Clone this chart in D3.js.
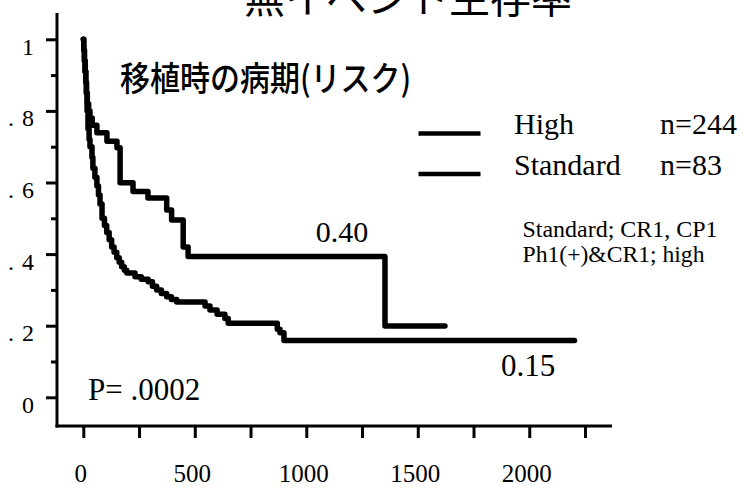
<!DOCTYPE html>
<html>
<head>
<meta charset="utf-8">
<script src="https://cdn.jsdelivr.net/npm/d3@7"></script>
<style>
  html, body { margin: 0; padding: 0; background: #fff; }
  svg { display: block; }
</style>
</head>
<body>
<script>
// ---------- data ----------
const titleText = "無イベント生存率";
const subtitleText = "移植時の病期(リスク)";

// High risk group (lower curve): time of drop (days) and survival after drop
const highTimes = [0, 2, 5, 8, 11, 14, 17, 21, 26, 30, 39, 43, 52, 61, 68, 75, 84, 95, 105, 116, 127, 138, 150, 161, 172, 184, 195, 232, 260, 291, 310, 329, 350, 374, 395, 419, 546, 568, 600, 635, 650, 870, 882, 900, 2203];
const highSurv  = [1.00, 0.97, 0.94, 0.91, 0.88, 0.85, 0.80, 0.75, 0.72, 0.70, 0.67, 0.64, 0.615, 0.59, 0.565, 0.54, 0.50, 0.48, 0.46, 0.44, 0.42, 0.405, 0.39, 0.377, 0.365, 0.355, 0.347, 0.337, 0.33, 0.323, 0.31, 0.30, 0.29, 0.281, 0.273, 0.266, 0.255, 0.244, 0.232, 0.22, 0.207, 0.19, 0.18, 0.159, 0.159];

// Standard risk group (upper curve)
const stdTimes = [0, 2, 5, 8, 11, 14, 18, 24, 30, 40, 61, 106, 151, 165, 223, 290, 374, 396, 448, 470, 1353, 1622];
const stdSurv  = [1.00, 0.97, 0.94, 0.91, 0.88, 0.85, 0.82, 0.80, 0.78, 0.76, 0.739, 0.715, 0.697, 0.599, 0.575, 0.557, 0.523, 0.495, 0.42, 0.393, 0.199, 0.199];

const legendNames  = ["High", "Standard"];
const legendCounts = ["n=244", "n=83"];
const noteLines = ["Standard; CR1, CP1", "Ph1(+)&CR1; high"];
const highEndLabel = "0.15";
const stdPlateauLabel = "0.40";
const pValueText = "P= .0002";

const xTickValues = [0, 250, 500, 750, 1000, 1250, 1500, 1750, 2000, 2250];
const xTickLabels = { 0: "0", 500: "500", 1000: "1000", 1500: "1500", 2000: "2000" };
const yMajorTicks = [0, 0.2, 0.4, 0.6, 0.8, 1];
const yTickLabels = ["0", ".2", ".4", ".6", ".8", "1"];
const yMinorTicks = [0.1, 0.3, 0.5, 0.7, 0.9];

// ---------- drawing ----------
const W = 744, H = 488;
const serif = "'Liberation Serif', 'Times New Roman', 'DejaVu Serif', serif";
const cjk = "'Noto Sans CJK JP', 'Noto Sans CJK SC', sans-serif";

const svg = d3.select("body").append("svg")
  .attr("width", W).attr("height", H)
  .attr("viewBox", `0 0 ${W} ${H}`);
svg.append("rect").attr("width", W).attr("height", H).attr("fill", "#fff");

const x = d3.scaleLinear().domain([0, 2250]).range([83.3, 585]);
const y = d3.scaleLinear().domain([0, 1]).range([397.3, 39.3]);

const axisX0 = 57, axisY0 = 426;

// title (cut off at top, as in the reference)
svg.append("text")
  .attr("x", 244).attr("y", 13)
  .attr("font-family", cjk).attr("font-size", 41)
  .attr("fill", "#000")
  .text(titleText);

// subtitle
svg.append("text")
  .attr("transform", "translate(120,91) scale(1,1.15)")
  .attr("font-family", cjk).attr("font-size", 30).attr("font-weight", 500)
  .attr("fill", "#000")
  .text(subtitleText);

// y axis
const yAxisMajor = d3.axisLeft(y)
  .tickValues(yMajorTicks)
  .tickSize(11)
  .tickPadding(12)
  .tickFormat((d, i) => yTickLabels[i]);
const gy = svg.append("g").attr("transform", `translate(${axisX0},0)`).call(yAxisMajor);
gy.select(".domain").remove();
gy.selectAll(".tick line").attr("stroke", "#000").attr("stroke-width", 3);
gy.selectAll(".tick text")
  .attr("font-family", serif).attr("font-size", 24).attr("fill", "#000")
  .attr("dy", 0).attr("y", 15)
  .each(function(d, i) {
    const t = d3.select(this);
    const s = yTickLabels[i];
    if (s.startsWith(".")) {
      t.text(null);
      t.append("tspan").text(".");
      t.append("tspan").attr("dx", 8).text(s.slice(1));
    }
  });

const yAxisMinor = d3.axisLeft(y).tickValues(yMinorTicks).tickSize(6).tickFormat("");
const gym = svg.append("g").attr("transform", `translate(${axisX0},0)`).call(yAxisMinor);
gym.select(".domain").remove();
gym.selectAll(".tick line").attr("stroke", "#000").attr("stroke-width", 3);

svg.append("line")
  .attr("x1", axisX0).attr("x2", axisX0).attr("y1", 13).attr("y2", axisY0 + 1.5)
  .attr("stroke", "#000").attr("stroke-width", 3);

// x axis
const xAxis = d3.axisBottom(x)
  .tickValues(xTickValues)
  .tickSize(12)
  .tickPadding(10)
  .tickFormat(d => xTickLabels[d] || "");
const gx = svg.append("g").attr("transform", `translate(0,${axisY0})`).call(xAxis);
gx.select(".domain").remove();
gx.selectAll(".tick line").attr("stroke", "#000").attr("stroke-width", 3);
gx.selectAll(".tick text")
  .attr("font-family", serif).attr("font-size", 25).attr("fill", "#000")
  .attr("dy", 0).attr("y", 56).attr("x", -3);

svg.append("line")
  .attr("x1", axisX0 - 1.5).attr("x2", 612).attr("y1", axisY0).attr("y2", axisY0)
  .attr("stroke", "#000").attr("stroke-width", 3);

// survival curves
const line = d3.line()
  .x(d => x(d[0]))
  .y(d => y(d[1]))
  .curve(d3.curveStepAfter);

const highData = highTimes.map((t, i) => [t, highSurv[i]]);
const stdData = stdTimes.map((t, i) => [t, stdSurv[i]]);

[highData, stdData].forEach(data => {
  svg.append("path")
    .datum(data)
    .attr("d", line)
    .attr("fill", "none")
    .attr("stroke", "#000")
    .attr("stroke-width", 5.5)
    .attr("stroke-linejoin", "round")
    .attr("stroke-linecap", "round");
});

// legend
const legY = [133.5, 174];
legendNames.forEach((name, i) => {
  svg.append("line")
    .attr("x1", 418.5).attr("x2", 480.5)
    .attr("y1", legY[i]).attr("y2", legY[i])
    .attr("stroke", "#000").attr("stroke-width", 4.5);
  svg.append("text")
    .attr("x", 514).attr("y", legY[i] + 0.5)
    .attr("font-family", serif).attr("font-size", 30).attr("fill", "#000")
    .text(name);
  svg.append("text")
    .attr("x", 660).attr("y", legY[i] + 0.5)
    .attr("font-family", serif).attr("font-size", 30).attr("fill", "#000")
    .text(legendCounts[i]);
});

// notes
const noteY = [237, 262];
const noteLen = [195, 182];
noteLines.forEach((s, i) => {
  svg.append("text")
    .attr("x", 522.5).attr("y", noteY[i])
    .attr("font-family", serif).attr("font-size", 23).attr("fill", "#000")
    .attr("textLength", noteLen[i]).attr("lengthAdjust", "spacingAndGlyphs")
    .text(s);
});

// curve annotations
svg.append("text")
  .attr("x", x(1160)).attr("y", 242)
  .attr("text-anchor", "middle")
  .attr("font-family", serif).attr("font-size", 30).attr("fill", "#000")
  .text(stdPlateauLabel);

svg.append("text")
  .attr("x", x(1995)).attr("y", 376)
  .attr("text-anchor", "middle")
  .attr("font-family", serif).attr("font-size", 31).attr("fill", "#000")
  .text(highEndLabel);

svg.append("text")
  .attr("x", 88).attr("y", 400)
  .attr("font-family", serif).attr("font-size", 31).attr("fill", "#000")
  .text(pValueText);
</script>
</body>
</html>
